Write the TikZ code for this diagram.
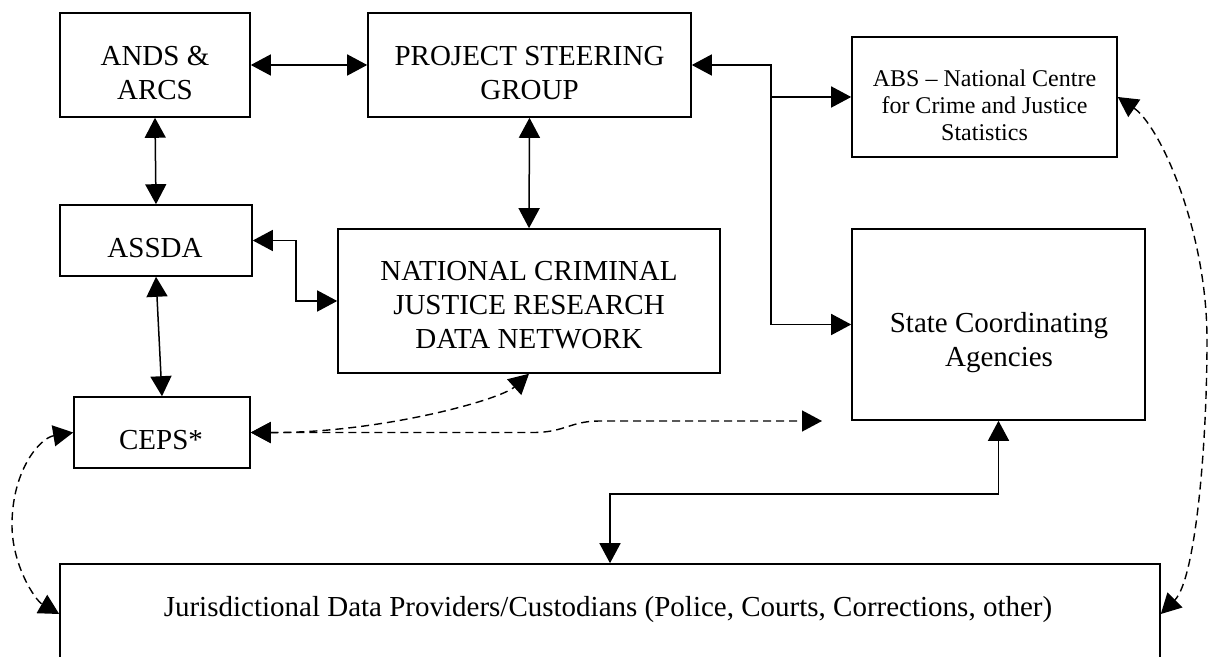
\documentclass[tikz,border=0pt]{standalone}
\usepackage{fontspec}
\setmainfont{Liberation Serif}
\usetikzlibrary{arrows.meta}
\begin{document}
\begin{tikzpicture}[x=0.5pt,y=-0.5pt,
  >={Triangle[length=10pt,width=10.5pt]},
  box/.style={draw,line width=0.8pt,inner sep=0pt},
  lbl/.style={align=center,inner sep=0pt,font=\fontsize{14.5}{17}\selectfont},
  slbl/.style={align=center,inner sep=0pt,font=\fontsize{12}{13.6}\selectfont},
  conn/.style={line width=0.75pt},
  dconn/.style={line width=0.7pt,dash pattern=on 4pt off 2.5pt}]
\useasboundingbox (0,0) rectangle (1210,657);
\clip (0,0) rectangle (1210,657);
% boxes
\node[box,minimum width=95pt,minimum height=52pt] (ands) at (155,65) {};
\node[box,minimum width=161.5pt,minimum height=52pt] (psg) at (529.5,65) {};
\node[box,minimum width=132.5pt,minimum height=60pt] (abs) at (984.5,97) {};
\node[box,minimum width=96pt,minimum height=35.5pt] (assda) at (156,240.5) {};
\node[box,minimum width=191pt,minimum height=72pt] (ncj) at (529,301) {};
\node[box,minimum width=146.5pt,minimum height=95.5pt] (sca) at (998.5,324.5) {};
\node[box,minimum width=88pt,minimum height=35.5pt] (ceps) at (162,432.5) {};
\node[box,minimum width=550pt,minimum height=50pt] (jur) at (610,614) {};
% labels
\node[lbl] (andsT) at (155,73.5) {ANDS \&\\ARCS};
\node[lbl] (psgT) at (529.5,73.5) {PROJECT STEERING\\GROUP};
\node[slbl] (absT) at (984.5,105.5) {ABS – National Centre\\for Crime and Justice\\Statistics};
\node[lbl] (assdaT) at (155,248) {ASSDA};
\node[lbl] (ncjT) at (529,305.5) {NATIONAL CRIMINAL\\JUSTICE RESEARCH\\DATA NETWORK};
\node[lbl] (scaT) at (999,343) {State Coordinating\\Agencies};
\node[lbl] (cepsT) at (161,440) {CEPS*};
\node[lbl] (jurT) at (608,610) {Jurisdictional Data Providers/Custodians (Police, Courts, Corrections, other)};
% solid connectors
\draw[conn,<->] (ands) -- (psg);
\draw[conn,<->] (ands.south) -- (assda.north);
\draw[conn,<->] (psg.south) -- (ncj.north);
\draw[conn,<->] (assda.east) -- ++(43,0) |- (ncj.west);
\draw[conn,<->] (assda.south) -- (ceps.north);
\coordinate (split) at (771,65);
\draw[conn,<->] (psg.east) -- (split) |- (sca.west);
\draw[conn,->] (split |- abs.west) -- (abs.west);
\draw[conn,<->] (sca.south) -- ++(0,73) -| (jur.north);
% dashed connectors
\coordinate (free) at (822,421);
\draw[dconn,<->] (ceps.east) .. controls (380,433) and (500,400) .. (ncj.south);
\draw[dconn,<->] (ceps.east) -- (533,432.5) .. controls (565,432.5) and (570,421) .. (600,421) -- (free);
\draw[dconn,<->] (ceps.west) .. controls (40,438) and (12,470) .. (12,525) .. controls (12,565) and (35,600) .. (jur.west);
\draw[dconn,<->] (abs.east) .. controls (1160,126) and (1207,230) .. (1207,340) .. controls (1207,450) and (1195,580) .. (jur.east);
\end{tikzpicture}
\end{document}
